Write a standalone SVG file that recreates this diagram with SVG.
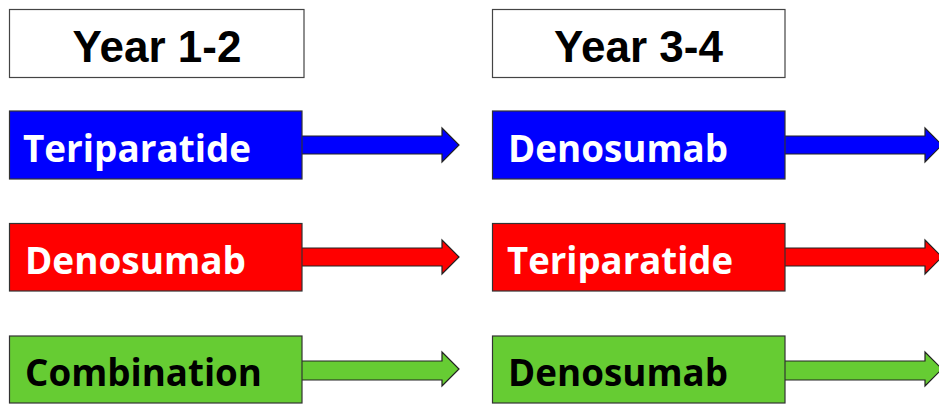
<svg xmlns="http://www.w3.org/2000/svg" width="939" height="406" viewBox="0 0 939 406">
<style>
.hdr{fill:#fff;stroke:#444;stroke-width:1.2}
.box{stroke:#333;stroke-width:1.2}
.arr{stroke:#222;stroke-width:1.2;stroke-linejoin:miter}
.blue{fill:#0000FF}
.red{fill:#FF0000}
.green{fill:#66CC33}
.ht{font-family:"Liberation Sans",Arial,sans-serif;font-weight:bold;font-size:44px;fill:#000;text-anchor:middle}
.bt{font-family:"Open Sans","Noto Sans",sans-serif;font-weight:bold;font-size:38px}
.w{fill:#fff}
.k{fill:#000}
</style>
<rect width="939" height="406" fill="#fff"/>
<g id="connectors">
<polygon class="arr blue" points="300,136 442,136 442,128 459,145 442,162 442,154 300,154"/>
<polygon class="arr red" points="300,248 442,248 442,240 459,257 442,274 442,266 300,266"/>
<polygon class="arr green" points="300,361 442,361 442,352 459,369 442,386 442,380 300,380"/>
<polygon class="arr blue" points="783,136 925,136 925,128 942,145 925,162 925,154 783,154"/>
<polygon class="arr red" points="783,248 925,248 925,240 942,257 925,274 925,266 783,266"/>
<polygon class="arr green" points="783,361 925,361 925,352 942,369 925,386 925,380 783,380"/>
</g>
<g id="header1">
<rect class="hdr" x="9.5" y="9.5" width="294.5" height="68"/>
<text class="ht" x="157" y="61.5">Year 1-2</text>
</g>
<g id="header2">
<rect class="hdr" x="492.5" y="9.5" width="292.5" height="68"/>
<text class="ht" x="638.5" y="61.5">Year 3-4</text>
</g>
<g id="teriparatide1">
<rect class="box blue" x="9.5" y="111" width="292.5" height="68"/>
<text class="bt w" x="23" y="162" textLength="228" lengthAdjust="spacingAndGlyphs">Teriparatide</text>
</g>
<g id="denosumab1">
<rect class="box red" x="9.5" y="223.5" width="292.5" height="67.5"/>
<text class="bt w" x="25" y="274" textLength="221" lengthAdjust="spacingAndGlyphs">Denosumab</text>
</g>
<g id="combination1">
<rect class="box green" x="9.5" y="336" width="292.5" height="67"/>
<text class="bt k" x="25" y="386" textLength="237" lengthAdjust="spacingAndGlyphs">Combination</text>
</g>
<g id="denosumab2">
<rect class="box blue" x="492.5" y="111" width="292.5" height="68"/>
<text class="bt w" x="508" y="162" textLength="220" lengthAdjust="spacingAndGlyphs">Denosumab</text>
</g>
<g id="teriparatide2">
<rect class="box red" x="492.5" y="223.5" width="292.5" height="67.5"/>
<text class="bt w" x="507" y="274" textLength="226" lengthAdjust="spacingAndGlyphs">Teriparatide</text>
</g>
<g id="denosumab3">
<rect class="box green" x="492.5" y="336" width="292.5" height="67"/>
<text class="bt k" x="508" y="386" textLength="220" lengthAdjust="spacingAndGlyphs">Denosumab</text>
</g>
</svg>
